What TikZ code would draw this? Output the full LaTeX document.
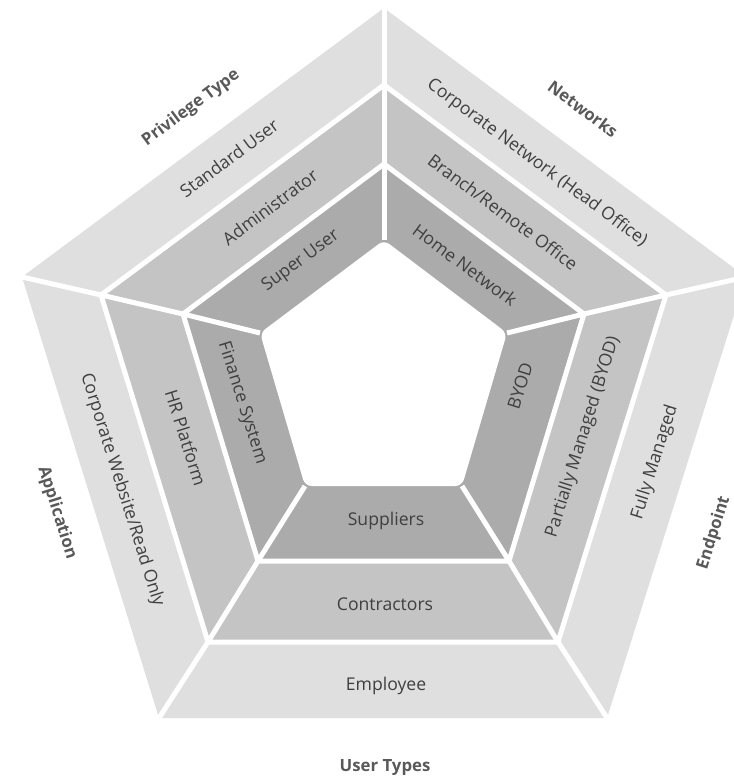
\documentclass[tikz,border=0pt]{standalone}
\usepackage{fontspec}
\setmainfont{Open Sans}
\definecolor{ringouter}{HTML}{DFDFDF}
\definecolor{ringmid}{HTML}{C4C4C4}
\definecolor{ringinner}{HTML}{ABABAB}
\definecolor{itemtext}{HTML}{3F3F3F}
\definecolor{headtext}{HTML}{595959}
\begin{document}
\begin{tikzpicture}[x=0.75pt,y=-0.75pt,
  gap/.style={draw=white,line width=3.75pt,line join=miter},
  item/.style={text=itemtext,font=\fontsize{13.2}{16}\selectfont,inner sep=0pt},
  head/.style={text=headtext,font=\bfseries\fontsize{12.6}{15}\selectfont,inner sep=0pt}]
\useasboundingbox (0,0) rectangle (733,778);

% pentagon outlines, outermost (o) to innermost (i)
\coordinate (o-T) at (384,8);   \coordinate (o-R) at (746,277);
\coordinate (o-BR) at (607,718); \coordinate (o-BL) at (159,718);
\coordinate (o-L) at (22,277);
\coordinate (a-T) at (384,85);  \coordinate (a-R) at (666,295);
\coordinate (a-BR) at (558,642); \coordinate (a-BL) at (208,642);
\coordinate (a-L) at (101,295);
\coordinate (b-T) at (384,164); \coordinate (b-R) at (584,314);
\coordinate (b-BR) at (509,561); \coordinate (b-BL) at (258,561);
\coordinate (b-L) at (183,314);
\coordinate (i-T) at (384,240); \coordinate (i-R) at (507,333);
\coordinate (i-BR) at (462,486); \coordinate (i-BL) at (305,486);
\coordinate (i-L) at (260,333);

% rings
\fill[ringouter] (o-T) -- (o-R) -- (o-BR) -- (o-BL) -- (o-L) -- cycle;
\fill[ringmid] (a-T) -- (a-R) -- (a-BR) -- (a-BL) -- (a-L) -- cycle;
\fill[ringinner] (b-T) -- (b-R) -- (b-BR) -- (b-BL) -- (b-L) -- cycle;
\fill[white,rounded corners=5pt] (i-T) -- (i-R) -- (i-BR) -- (i-BL) -- (i-L) -- cycle;

% white separators between rings and between sectors
\draw[gap] (a-T) -- (a-R) -- (a-BR) -- (a-BL) -- (a-L) -- cycle;
\draw[gap] (b-T) -- (b-R) -- (b-BR) -- (b-BL) -- (b-L) -- cycle;
\foreach \v in {T,R,BR,BL,L}
  \draw[gap] (i-\v) -- (b-\v) -- (a-\v) -- (o-\v);

% Privilege Type
\node[head,rotate=36.6] (h-priv) at (191,108) {Privilege Type};
\node[item,rotate=36.6] (p-std) at (229,158) {Standard User};
\node[item,rotate=36.6] (p-adm) at (270,207) {Administrator};
\node[item,rotate=36.6] (p-sup) at (301,261) {Super User};

% Networks
\node[head,rotate=-36.6] (h-net) at (583,109) {Networks};
\node[item,rotate=-36.6] (n-corp) at (537,163) {Corporate Network (Head Office)};
\node[item,rotate=-36.6] (n-branch) at (503,212) {Branch/Remote Office};
\node[item,rotate=-36.6] (n-home) at (465,265) {Home Network};

% Application
\node[head,rotate=-72.5] (h-app) at (57,513) {Application};
\node[item,rotate=-72.5] (a-web) at (122,490) {Corporate Website/Read Only};
\node[item,rotate=-72.5] (a-hr) at (186,438) {HR Platform};
\node[item,rotate=-72.5] (a-fin) at (242,403) {Finance System};

% Endpoint
\node[head,rotate=72.5] (h-end) at (714,533) {Endpoint};
\node[item,rotate=72.5] (e-full) at (655,462) {Fully Managed};
\node[item,rotate=72.5] (e-part) at (583,437) {Partially Managed (BYOD)};
\node[item,rotate=72.5] (e-byod) at (520,386) {BYOD};

% User Types
\node[head] (h-user) at (385,768) {User Types};
\node[item] (u-emp) at (386,686) {Employee};
\node[item] (u-con) at (385,604) {Contractors};
\node[item] (u-sup) at (386,521) {Suppliers};
\end{tikzpicture}
\end{document}
